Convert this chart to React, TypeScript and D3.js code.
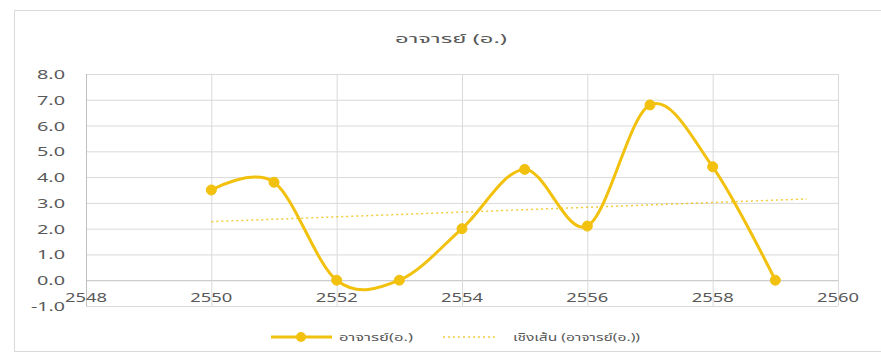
import React from "react";
import * as d3 from "d3";

const years = [2550, 2551, 2552, 2553, 2554, 2555, 2556, 2557, 2558, 2559];
const lecturers = [3.5, 3.8, 0, 0, 2.0, 4.3, 2.1, 6.8, 4.4, 0];
const yTicks = [-1, 0, 1, 2, 3, 4, 5, 6, 7, 8];
const xTicks = [2548, 2550, 2552, 2554, 2556, 2558, 2560];
const title = "อาจารย์ (อ.)";
const seriesName = "อาจารย์(อ.)";
const trendName = "เชิงเส้น (อาจารย์(อ.))";
const trendForward = 0.5;

const W = 881;
const H = 357;
const left = 86;
const right = 838;
const top = 74;
const bottom = 306;
const gold = "#F2C10E";
const textColor = "#595959";
const font = "'Noto Sans', 'Noto Sans Thai', sans-serif";

export default function App() {
  const x = d3.scaleLinear().domain([2548, 2560]).range([left, right]);
  const y = d3.scaleLinear().domain([-1, 8]).range([bottom, top]);

  const pts: [number, number][] = years.map((yr, i) => [yr, lecturers[i]]);
  const line = d3
    .line<[number, number]>()
    .x((d) => x(d[0]))
    .y((d) => y(d[1]))
    .curve(d3.curveCardinal.tension(0));

  // least-squares linear trend
  const mx = d3.mean(years)!;
  const my = d3.mean(lecturers)!;
  const sxy = d3.sum(years, (yr, i) => (yr - mx) * (lecturers[i] - my));
  const sxx = d3.sum(years, (yr) => (yr - mx) ** 2);
  const slope = sxy / sxx;
  const icpt = my - slope * mx;
  const tx0 = years[0];
  const tx1 = years[years.length - 1] + trendForward;

  return (
    <svg
      width={W}
      height={H}
      style={{ position: "absolute", left: 0, top: 0, background: "#fff" }}
      fontFamily={font}
    >
      <rect x={14.5} y={10.5} width={880} height={341} fill="#fff" stroke="#d9d9d9" />
      <text
        x={451}
        y={43}
        textAnchor="middle"
        fontSize={13}
        fill={textColor}
        textLength={112}
        lengthAdjust="spacingAndGlyphs"
      >
        {title}
      </text>
      {yTicks.map((t) => (
        <g key={"y" + t}>
          <line
            x1={left}
            x2={right}
            y1={y(t) + 0.5}
            y2={y(t) + 0.5}
            stroke={t === 0 ? "#bfbfbf" : "#d9d9d9"}
          />
          <text
            x={65}
            y={y(t) + 5}
            textAnchor="end"
            fontSize={13}
            fill={textColor}
            textLength={t < 0 ? 34 : 28}
            lengthAdjust="spacingAndGlyphs"
          >
            {t.toFixed(1)}
          </text>
        </g>
      ))}
      {xTicks.map((t) => (
        <g key={"x" + t}>
          <line
            x1={x(t) + 0.5}
            x2={x(t) + 0.5}
            y1={top}
            y2={bottom}
            stroke={t === 2548 ? "#bfbfbf" : "#d9d9d9"}
          />
          <text
            x={x(t)}
            y={y(0) + 22}
            textAnchor="middle"
            fontSize={13}
            fill={textColor}
            textLength={42}
            lengthAdjust="spacingAndGlyphs"
          >
            {t}
          </text>
        </g>
      ))}
      <line
        x1={x(tx0)}
        x2={x(tx1)}
        y1={y(icpt + slope * tx0)}
        y2={y(icpt + slope * tx1)}
        stroke={gold}
        strokeWidth={1.5}
        strokeDasharray="2 3"
        opacity={0.8}
      />
      <path d={line(pts) ?? ""} fill="none" stroke={gold} strokeWidth={3} />
      {pts.map((p, i) => (
        <circle key={i} cx={x(p[0])} cy={y(p[1])} r={5} fill={gold} stroke={gold} />
      ))}
      <g>
        <line x1={271} x2={332} y1={337} y2={337} stroke={gold} strokeWidth={3} />
        <circle cx={301} cy={337} r={5} fill={gold} />
        <text
          x={339}
          y={341}
          fontSize={11}
          fill={textColor}
          textLength={74}
          lengthAdjust="spacingAndGlyphs"
        >
          {seriesName}
        </text>
        <line
          x1={443}
          x2={498}
          y1={337}
          y2={337}
          stroke={gold}
          strokeWidth={1.5}
          strokeDasharray="2 3"
          opacity={0.8}
        />
        <text
          x={513}
          y={341}
          fontSize={11}
          fill={textColor}
          textLength={127}
          lengthAdjust="spacingAndGlyphs"
        >
          {trendName}
        </text>
      </g>
    </svg>
  );
}
